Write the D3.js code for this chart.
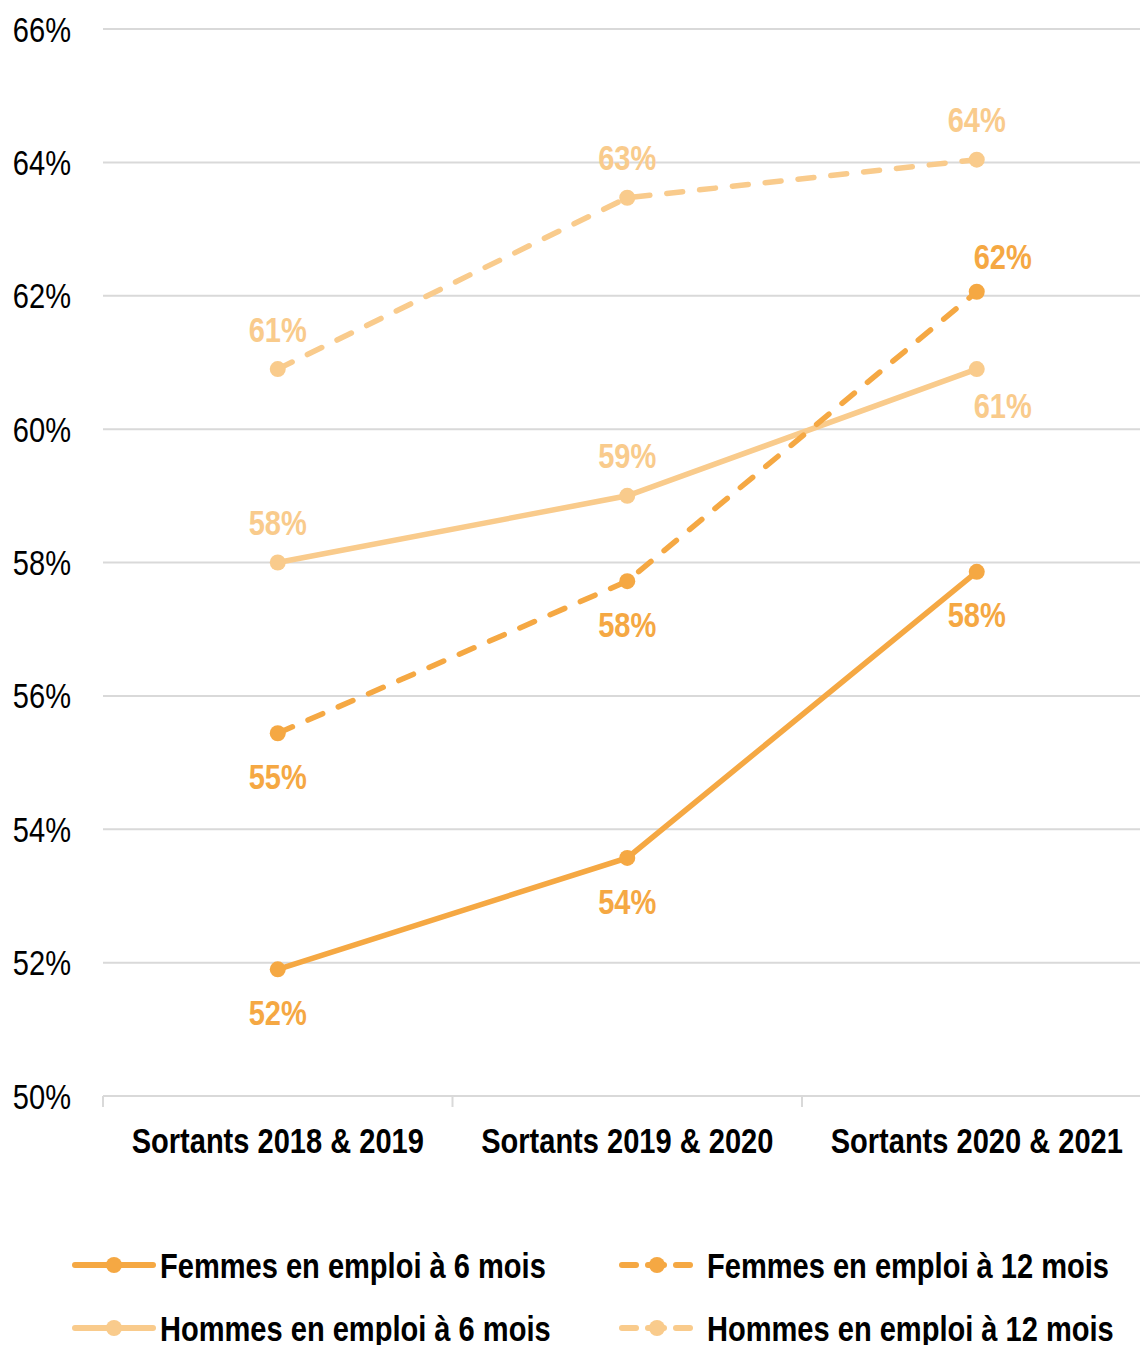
<!DOCTYPE html>
<html><head><meta charset="utf-8">
<script src="https://cdn.jsdelivr.net/npm/d3@7"></script>
<style>
body{margin:0;background:#fff;}
svg text{font-family:"Liberation Sans",Arial,sans-serif;}
</style></head>
<body><svg id="c" width="1140" height="1345"></svg>
<script>
const categories = ["Sortants 2018 & 2019","Sortants 2019 & 2020","Sortants 2020 & 2021"];
const femmes6 = [51.9, 53.57, 57.86];
const femmes12 = [55.44, 57.72, 62.06];
const hommes6 = [58.0, 59.0, 60.9];
const hommes12 = [60.9, 63.47, 64.04];
const yTicks = [50,52,54,56,58,60,62,64,66];
const seriesNames = ["Femmes en emploi à 6 mois","Femmes en emploi à 12 mois","Hommes en emploi à 6 mois","Hommes en emploi à 12 mois"];
const labelPlace = {
  f6:["below","below","below"],
  f12:["below","below","aboveRight"],
  h6:["above","above","belowRight"],
  h12:["above","above","above"]
};
const DARK="#F5A843", LIGHT="#F9CB8C";
const SX = 0.83;
const series = [
  {key:"f6", name:seriesNames[0], values:femmes6, color:DARK, dash:null},
  {key:"f12", name:seriesNames[1], values:femmes12, color:DARK, dash:"16 17"},
  {key:"h6", name:seriesNames[2], values:hommes6, color:LIGHT, dash:null},
  {key:"h12", name:seriesNames[3], values:hommes12, color:LIGHT, dash:"16 17"}
];
const svg = d3.select("#c");
const x = d3.scalePoint().domain(categories).range([103,1151.5]).padding(0.5);
const xb = d3.scaleBand().domain(categories).range([103,1151.5]);
const y = d3.scaleLinear().domain([50,66]).range([1096,29]);

function txt(g, tx, ty, s, opts){
  const t = g.append("text").attr("transform",`translate(${tx},${ty}) scale(${SX},1)`)
    .attr("dy","0.36em").attr("font-size",35).text(s);
  Object.entries(opts||{}).forEach(([k,v])=>t.attr(k,v));
  return t;
}

// gridlines
svg.append("g").selectAll("line").data(yTicks.slice(1)).join("line")
 .attr("x1",103).attr("x2",1140).attr("y1",d=>y(d)).attr("y2",d=>y(d))
 .attr("stroke","#d9d9d9").attr("stroke-width",2);
// y labels
const gy = svg.append("g");
yTicks.forEach(d=>txt(gy,71,y(d),d+"%",{"text-anchor":"end",fill:"#000"}));
// x axis
svg.append("line").attr("x1",103).attr("x2",1140).attr("y1",y(50)).attr("y2",y(50)).attr("stroke","#d9d9d9").attr("stroke-width",2);
svg.append("g").selectAll("line").data(categories).join("line")
 .attr("x1",d=>xb(d)).attr("x2",d=>xb(d)).attr("y1",y(50)).attr("y2",y(50)+11)
 .attr("stroke","#d9d9d9").attr("stroke-width",2);
const gx = svg.append("g");
categories.forEach(c=>txt(gx,x(c),1140,c,{"text-anchor":"middle","font-weight":"bold",fill:"#000"}));

// lines
const line = d3.line().x((d,i)=>x(categories[i])).y(d=>y(d));
const order = ["h12","h6","f12","f6"];
order.forEach(k=>{
  const s = series.find(s=>s.key===k);
  const g = svg.append("g");
  g.append("path").attr("d",line(s.values)).attr("fill","none").attr("stroke",s.color)
   .attr("stroke-width",5.5).attr("stroke-linecap","round").attr("stroke-dasharray",s.dash);
  g.selectAll("circle").data(s.values).join("circle")
   .attr("cx",(d,i)=>x(categories[i])).attr("cy",d=>y(d)).attr("r",8).attr("fill",s.color);
  s.values.forEach((d,i)=>{
    const p = labelPlace[k][i];
    const lx = x(categories[i])+(p.endsWith("Right")?26:0);
    const ly = y(d)+(p.startsWith("above")?(p==="aboveRight"?-35:-40):(p==="belowRight"?36:43));
    txt(g,lx,ly,Math.round(d)+"%",{"text-anchor":"middle","font-weight":"bold",fill:s.color});
  });
});

// legend
const leg = [
 {s:series[0], lx:75, ly:1265},
 {s:series[1], lx:620, ly:1265},
 {s:series[2], lx:75, ly:1328},
 {s:series[3], lx:620, ly:1328}
];
leg.forEach(o=>{
  const g = svg.append("g");
  if(o.s.dash){
    [[o.lx+2,o.lx+16],[o.lx+56,o.lx+70]].forEach(([a,b])=>g.append("line").attr("x1",a).attr("x2",b).attr("y1",o.ly).attr("y2",o.ly)
      .attr("stroke",o.s.color).attr("stroke-width",6).attr("stroke-linecap","round"));
    g.append("line").attr("x1",o.lx+28).attr("x2",o.lx+44).attr("y1",o.ly).attr("y2",o.ly).attr("stroke",o.s.color).attr("stroke-width",6).attr("stroke-linecap","round");
    g.append("circle").attr("cx",o.lx+37).attr("cy",o.ly).attr("r",8).attr("fill",o.s.color);
    txt(g,o.lx+87,o.ly,o.s.name,{"font-weight":"bold",fill:"#000"});
  } else {
    g.append("line").attr("x1",o.lx).attr("x2",o.lx+78).attr("y1",o.ly).attr("y2",o.ly).attr("stroke",o.s.color).attr("stroke-width",6).attr("stroke-linecap","round");
    g.append("circle").attr("cx",o.lx+39).attr("cy",o.ly).attr("r",8).attr("fill",o.s.color);
    txt(g,o.lx+85,o.ly,o.s.name,{"font-weight":"bold",fill:"#000"});
  }
});
</script></body></html>
